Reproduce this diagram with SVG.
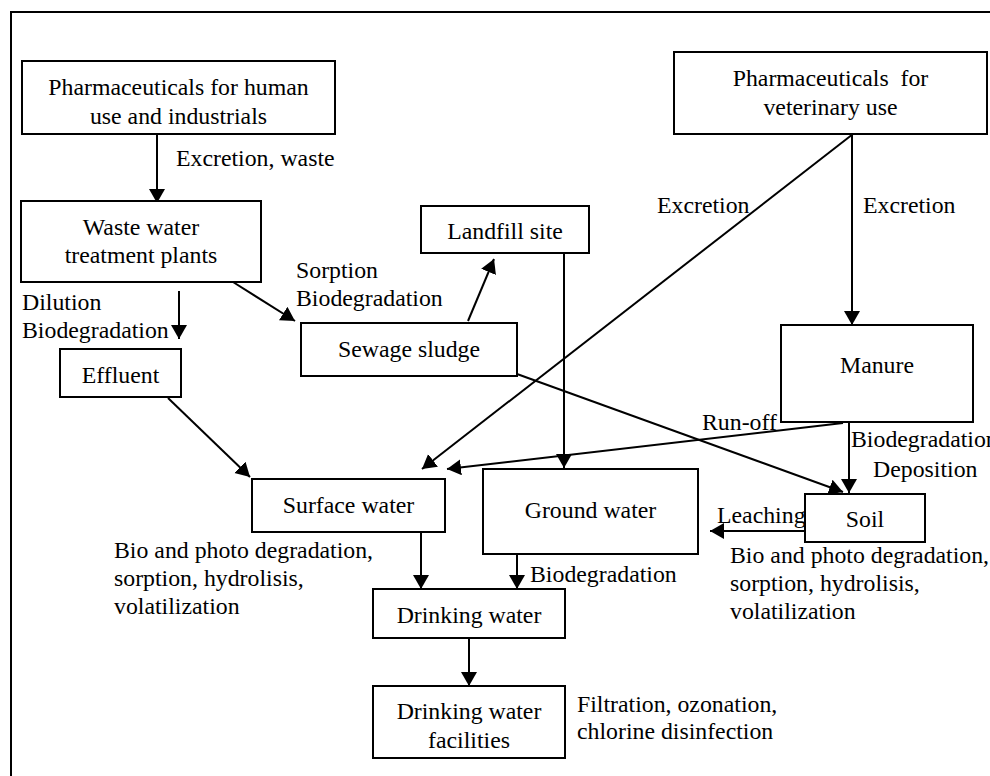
<svg xmlns="http://www.w3.org/2000/svg" width="990" height="776" viewBox="0 0 990 776">
<style>
text{font-family:'Liberation Serif','DejaVu Serif',serif;font-size:23.8px;fill:#000}
.c{text-anchor:middle}
.box{fill:#fff;stroke:#000;stroke-width:2}
.ln{stroke:#000;stroke-width:2;fill:none}
.ar{stroke:#000;stroke-width:2;fill:none;marker-end:url(#ah)}
</style>
<defs>
<marker id="ah" markerUnits="userSpaceOnUse" markerWidth="15" markerHeight="17" refX="14" refY="8" orient="auto" viewBox="0 0 15 17">
<path d="M0,0 L14,8 L0,16 z" fill="#000"/>
</marker>
</defs>
<rect width="990" height="776" fill="#fff"/>
<path d="M11,776 V12 H990" class="ln"/>

<g id="connectors">
<line x1="157" y1="134" x2="157" y2="203" class="ar"/>
<line x1="233" y1="282" x2="295" y2="321" class="ar"/>
<line x1="179" y1="291" x2="179" y2="339" class="ar"/>
<line x1="168" y1="398" x2="250" y2="477" class="ar"/>
<line x1="468" y1="321" x2="494" y2="259" class="ar"/>
<line x1="564" y1="253" x2="564" y2="468" class="ar"/>
<line x1="853" y1="134" x2="422" y2="469" class="ar"/>
<line x1="852" y1="134" x2="852" y2="325" class="ar"/>
<line x1="843" y1="423" x2="447" y2="469" class="ar"/>
<line x1="517" y1="374" x2="843" y2="492" class="ar"/>
<line x1="849" y1="422" x2="849" y2="493" class="ar"/>
<line x1="805" y1="531" x2="710" y2="531" class="ar"/>
<line x1="421" y1="532" x2="421" y2="589" class="ar"/>
<line x1="517" y1="554" x2="517" y2="589" class="ar"/>
<line x1="469" y1="638" x2="469" y2="686" class="ar"/>
</g>

<g id="labels">
<text x="176" y="166">Excretion, waste</text>
<text x="296" y="278">Sorption</text>
<text x="296" y="306">Biodegradation</text>
<text x="22" y="310">Dilution</text>
<text x="22" y="338">Biodegradation</text>
<text x="657" y="213">Excretion</text>
<text x="863" y="213">Excretion</text>
<text x="702" y="430">Run-off</text>
<text x="851" y="447">Biodegradation</text>
<text x="873" y="477">Deposition</text>
<text x="717" y="523">Leaching</text>
<text x="730" y="563">Bio and photo degradation,</text>
<text x="730" y="591">sorption, hydrolisis,</text>
<text x="730" y="619">volatilization</text>
<text x="114" y="558">Bio and photo degradation,</text>
<text x="114" y="586">sorption, hydrolisis,</text>
<text x="114" y="614">volatilization</text>
<text x="530" y="582">Biodegradation</text>
<text x="577" y="712">Filtration, ozonation,</text>
<text x="577" y="739">chlorine disinfection</text>
</g>

<g id="human">
<rect x="22" y="61" width="313" height="73" class="box"/>
<text x="178.5" y="95" class="c">Pharmaceuticals for human</text>
<text x="178.5" y="124" class="c">use and industrials</text>
</g>
<g id="wwtp">
<rect x="21" y="201" width="240" height="81" class="box"/>
<text x="141" y="235" class="c">Waste water</text>
<text x="141" y="263" class="c">treatment plants</text>
</g>
<g id="landfill">
<rect x="421" y="206" width="168" height="47" class="box"/>
<text x="505" y="239" class="c">Landfill site</text>
</g>
<g id="veterinary">
<rect x="674" y="52" width="313" height="82" class="box"/>
<text x="830.5" y="86" class="c" xml:space="preserve">Pharmaceuticals  for</text>
<text x="830.5" y="115" class="c">veterinary use</text>
</g>
<g id="sludge">
<rect x="301" y="323" width="216" height="53" class="box"/>
<text x="409" y="357" class="c">Sewage sludge</text>
</g>
<g id="effluent">
<rect x="60" y="349" width="121" height="48" class="box"/>
<text x="120.5" y="383" class="c">Effluent</text>
</g>
<g id="manure">
<rect x="781" y="325" width="192" height="97" class="box"/>
<text x="877" y="373" class="c">Manure</text>
</g>
<g id="surface">
<rect x="252" y="479" width="193" height="53" class="box"/>
<text x="348.5" y="513" class="c">Surface water</text>
</g>
<g id="ground">
<rect x="483" y="469" width="215" height="85" class="box"/>
<text x="590.5" y="518" class="c">Ground water</text>
</g>
<g id="soil">
<rect x="805" y="494" width="120" height="48" class="box"/>
<text x="865" y="527" class="c">Soil</text>
</g>
<g id="drinking">
<rect x="373" y="589" width="192" height="49" class="box"/>
<text x="469" y="623" class="c">Drinking water</text>
</g>
<g id="facilities">
<rect x="373" y="686" width="192" height="72" class="box"/>
<text x="469" y="719" class="c">Drinking water</text>
<text x="469" y="748" class="c">facilities</text>
</g>
</svg>
